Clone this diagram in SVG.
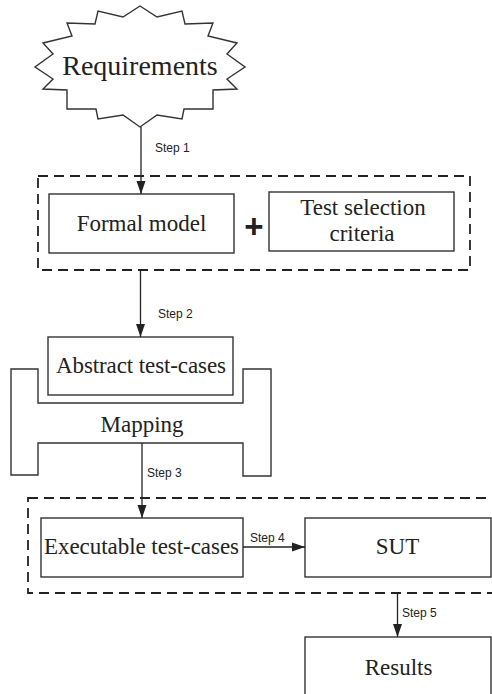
<svg xmlns="http://www.w3.org/2000/svg" width="492" height="694" viewBox="0 0 492 694">
<defs>
<marker id="ah" markerUnits="userSpaceOnUse" markerWidth="14" markerHeight="10" refX="13" refY="5" orient="auto">
<path d="M0,0.5 L13,5 L0,9.5 z" fill="#222"/>
</marker>
<style>
.shape{fill:#fff;stroke:#333;stroke-width:1.4}
.dash{fill:none;stroke:#222;stroke-width:1.8;stroke-dasharray:10 6}
.conn{fill:none;stroke:#222;stroke-width:1.3;marker-end:url(#ah)}
.serif{font-family:"Liberation Serif","Times New Roman",serif;font-size:23px;fill:#222;text-anchor:middle}
.step{font-family:"Liberation Sans",Arial,sans-serif;font-size:12px;fill:#222}
</style>
</defs>
<rect width="492" height="694" fill="#fff"/>

<g id="group1">
<rect class="dash" x="38" y="176" width="432" height="94"/>
</g>
<g id="group2">
<rect class="dash" x="28" y="498" width="475" height="95"/>
</g>

<g id="requirements">
<polygon class="shape" points="140,6 157,17 182,11 185,24 213,23 208,36 237,43 227,54 245,67 227,79 237,89 213,90 213,109 184,109 182,119 157,115 140,127 123,115 98,119 96,109 67,109 67,90 43,89 53,79 35,67 53,54 43,43 72,36 67,23 95,24 98,11 123,17"/>
<text class="serif" x="140" y="75" style="font-size:28px">Requirements</text>
</g>

<g id="formal-model">
<rect class="shape" x="49" y="194" width="185" height="59"/>
<text class="serif" x="141.5" y="231">Formal model</text>
</g>

<g id="plus">
<text x="254" y="238" style="font-family:'Liberation Sans',Arial,sans-serif;font-size:33px;font-weight:bold;fill:#222;text-anchor:middle">+</text>
</g>

<g id="test-selection">
<rect class="shape" x="269" y="192" width="185" height="59"/>
<text class="serif" x="363" y="215">Test selection</text>
<text class="serif" x="362" y="241">criteria</text>
</g>

<g id="abstract">
<rect class="shape" x="48" y="337" width="185" height="58"/>
<text class="serif" x="141" y="373" textLength="170">Abstract test-cases</text>
</g>

<g id="mapping">
<path class="shape" d="M11,369 H38 V403 H243 V369 H271 V476 H243 V443 H38 V475 H11 Z"/>
<text class="serif" x="142" y="432">Mapping</text>
</g>

<g id="executable">
<rect class="shape" x="41" y="518" width="202" height="59"/>
<text class="serif" x="141.5" y="554" textLength="195">Executable test-cases</text>
</g>

<g id="sut">
<rect class="shape" x="305" y="518" width="186" height="59"/>
<text class="serif" x="397.5" y="554">SUT</text>
</g>

<g id="results">
<rect class="shape" x="305" y="637" width="186" height="70"/>
<text class="serif" x="398.5" y="675">Results</text>
</g>

<g id="connectors">
<line class="conn" x1="141" y1="127" x2="141" y2="194"/>
<text class="step" x="155" y="152">Step 1</text>
<line class="conn" x1="140.5" y1="270" x2="140.5" y2="337"/>
<text class="step" x="158" y="318">Step 2</text>
<line class="conn" x1="142" y1="443" x2="142" y2="518"/>
<text class="step" x="147" y="477">Step 3</text>
<line class="conn" x1="243" y1="547" x2="305" y2="547"/>
<text class="step" x="250" y="542">Step 4</text>
<line class="conn" x1="397.5" y1="593" x2="397.5" y2="637"/>
<text class="step" x="402" y="617">Step 5</text>
</g>
</svg>
